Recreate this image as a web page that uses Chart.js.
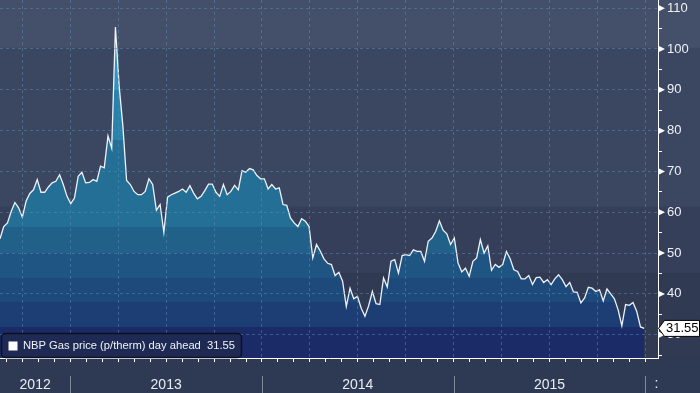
<!DOCTYPE html>
<html>
<head>
<meta charset="utf-8">
<script src="https://cdn.jsdelivr.net/npm/chart.js@4.4.1/dist/chart.umd.min.js"></script>
<style>
  html, body { margin: 0; padding: 0; background: #2e3a53; }
  #wrap { width: 700px; height: 393px; }
</style>
</head>
<body>
<div id="wrap"><canvas id="c" width="700" height="393"></canvas></div>
<script>
// ---- Data ----
const seriesLabel = 'NBP Gas price (p/therm) day ahead';
// weekly values, Aug 2012 -> Dec 2015 (p/therm)
const values = [
  53.5, 56.5, 57.4, 60.2, 62.4, 61.1, 58.8, 62.7, 64.6, 65.5,
  68.0, 64.9, 64.9, 66.2, 67.2, 67.6, 69.2, 66.8, 63.9, 62.1,
  63.5, 68.8, 69.8, 67.2, 67.3, 68.0, 67.6, 71.3, 70.9, 78.7,
  75.7, 105.4, 90.9, 81.1, 67.8, 66.8, 65.1, 64.3, 64.3, 65.1,
  68.2, 66.8, 60.5, 61.9, 55.1, 63.7, 64.3, 64.7, 65.1, 65.7,
  64.9, 66.5, 64.7, 63.3, 63.9, 65.3, 66.9, 66.9, 64.9, 63.9,
  66.8, 64.3, 65.1, 66.6, 65.5, 70.2, 69.8, 70.7, 70.4, 69.0,
  68.2, 68.2, 65.7, 66.8, 65.7, 66.0, 61.9, 61.7, 58.6, 57.4,
  56.5, 58.4, 57.8, 56.5, 48.8, 52.1, 50.5, 48.6, 47.5, 47.2,
  44.5, 45.3, 43.1, 36.9, 41.4, 38.8, 39.4, 36.5, 34.5, 37.1,
  40.6, 37.6, 37.4, 43.9, 41.7, 48.0, 48.4, 45.1, 49.4, 49.6,
  49.4, 50.8, 50.4, 50.4, 48.0, 52.9, 53.7, 55.3, 57.9, 55.6,
  54.7, 52.1, 53.7, 47.6, 45.4, 46.3, 44.3, 48.0, 48.8, 53.3,
  50.0, 51.8, 45.8, 47.2, 46.5, 47.2, 50.4, 48.6, 45.9, 45.5,
  43.7, 43.7, 44.5, 42.3, 44.0, 44.1, 42.8, 43.5, 42.3, 43.7,
  44.7, 43.5, 41.8, 42.8, 40.5, 40.4, 37.8, 39.0, 41.6, 41.4,
  40.6, 41.0, 38.3, 41.2, 40.0, 38.8, 36.1, 32.2, 37.4, 37.2,
  37.9, 35.7, 31.9, 31.55
];
const lastValueText = '31.55';
// x axis is in months counted from Jan 2012 (month 12 = Jan 2013)
const firstWeekMonth = 7.6;     // date of first observation (late Aug 2012)
const weekInMonths = 0.2331;    // one weekly step
const xMin = 7.6, xMax = 48.79;
const monthTicks = [8,9,10,11,12,13,14,15,16,17,18,19,20,21,22,23,24,25,26,27,28,29,30,31,32,33,34,35,36,37,38,39,40,41,42,43,44,45,46,47,48];
const yearLabels = ['2012', '2013', '2014', '2015'];
const yearStartMonths = [0, 12, 24, 36, 48];
const yMin = 24.3, yMax = 112;
const yTickValues = [25,30,35,40,45,50,55,60,65,70,75,80,85,90,95,100,105,110];

const points = values.map((v, i) => ({ x: firstWeekMonth + i * weekInMonths, y: v }));

// ---- Styles ----
const FONT = '"Liberation Sans", Arial, sans-serif';
const gridColor = 'rgba(92,140,180,0.5)';
const clear = 'rgba(0,0,0,0)';
const bgBands = [ // [fraction of plot height where band ends, colour]
  [0.134, '#444f69'], [0.578, '#3b4661'], [0.763, '#353f59'], [1.0, '#303a53']
];
const fillBands = [
  [0.251, '#2c95c0'], [0.391, '#2783ac'], [0.634, '#236f96'], [0.707, '#216189'],
  [0.777, '#1f5582'], [0.844, '#1e4a7b'], [0.913, '#1d3e74'], [1.0, '#1b2b67']
];

function fillGradient(ctx) {
  const chart = ctx.chart;
  const a = chart.chartArea;
  if (!a) return '#236f96';
  const g = chart.ctx.createLinearGradient(0, a.top, 0, a.bottom);
  let prev = 0;
  fillBands.forEach(([f, c]) => { g.addColorStop(prev, c); g.addColorStop(f, c); prev = f; });
  return g;
}

const bgPlugin = {
  id: 'bg',
  beforeDraw(chart) {
    const { ctx, chartArea: a, width, height } = chart;
    ctx.save();
    let prev = a.top;
    bgBands.forEach(([f, c]) => {
      const yEnd = a.top + f * (a.bottom - a.top);
      ctx.fillStyle = c;
      ctx.fillRect(0, prev, width, yEnd - prev);
      prev = yEnd;
    });
    ctx.fillStyle = '#2e3a53';
    ctx.fillRect(0, a.bottom, width, height - a.bottom);
    ctx.restore();
  }
};

const overlayPlugin = {
  id: 'overlay',
  afterDraw(chart) {
    const { ctx, chartArea: a } = chart;
    const xs = chart.scales.x, ys = chart.scales.y;
    ctx.save();
    // major tick markers on the value axis
    ctx.fillStyle = '#ffffff';
    yTickValues.filter(v => v % 10 === 0).forEach(v => {
      const y = ys.getPixelForValue(v);
      ctx.beginPath();
      ctx.moveTo(a.right, y - 3.5);
      ctx.lineTo(a.right + 7, y);
      ctx.lineTo(a.right, y + 3.5);
      ctx.closePath();
      ctx.fill();
    });
    // year separators and labels
    ctx.strokeStyle = '#7f899c';
    ctx.lineWidth = 1;
    const px = yearStartMonths.map(m => xs.getPixelForValue(m));
    px.slice(1).forEach(p => {
      const x = Math.round(p) + 0.5;
      ctx.beginPath(); ctx.moveTo(x, a.bottom + 18); ctx.lineTo(x, chart.height); ctx.stroke();
    });
    ctx.fillStyle = '#e8edf4';
    ctx.font = '14px ' + FONT;
    ctx.textAlign = 'center';
    ctx.textBaseline = 'middle';
    yearLabels.forEach((lab, i) => {
      const l = Math.max(px[i], a.left), r = px[i + 1];
      ctx.fillText(lab, (l + r) / 2, a.bottom + 27);
    });
    ctx.textAlign = 'left';
    ctx.fillText(':', px[4] + 9, a.bottom + 26);

    // legend box
    const lx = 1.5, ly = a.bottom - 24.5, lw = 240, lh = 24;
    ctx.beginPath();
    ctx.roundRect(lx, ly, lw, lh, 4);
    ctx.fillStyle = '#1e2a53';
    ctx.fill();
    ctx.strokeStyle = '#0b1122';
    ctx.lineWidth = 1.5;
    ctx.stroke();
    ctx.fillStyle = '#ffffff';
    ctx.fillRect(8.5, ly + 8, 9, 9);
    ctx.fillStyle = '#eef2f8';
    ctx.font = '11.2px ' + FONT;
    ctx.textBaseline = 'middle';
    ctx.fillText(seriesLabel + '  ' + lastValueText, 23, ly + 12.5);

    // last value marker
    const yv = ys.getPixelForValue(values[values.length - 1]);
    ctx.beginPath();
    ctx.moveTo(a.right + 0.5, yv);
    ctx.lineTo(a.right + 6.5, yv - 8);
    ctx.lineTo(699.5, yv - 8);
    ctx.lineTo(699.5, yv + 8);
    ctx.lineTo(a.right + 6.5, yv + 8);
    ctx.closePath();
    ctx.fillStyle = '#ffffff';
    ctx.fill();
    ctx.strokeStyle = '#000000';
    ctx.lineWidth = 1;
    ctx.stroke();
    ctx.fillStyle = '#000000';
    ctx.font = '13px ' + FONT;
    ctx.fillText(lastValueText, a.right + 8, yv + 0.5);
    ctx.restore();
  }
};

new Chart(document.getElementById('c'), {
  type: 'line',
  data: {
    datasets: [{
      label: seriesLabel,
      data: points,
      borderColor: '#eef2f8',
      borderWidth: 1.3,
      pointRadius: 0,
      tension: 0,
      fill: 'start',
      backgroundColor: fillGradient
    }]
  },
  options: {
    responsive: false,
    animation: false,
    devicePixelRatio: 1,
    layout: { padding: 0 },
    plugins: { legend: { display: false }, tooltip: { enabled: false } },
    scales: {
      x: {
        type: 'linear', position: 'bottom', min: xMin, max: xMax,
        afterBuildTicks: s => { s.ticks = monthTicks.map(v => ({ value: v })); },
        afterFit: s => { s.height = 35; s.paddingLeft = 0; s.paddingRight = 0; },
        ticks: { display: false, autoSkip: false },
        grid: {
          z: 1,
          color: c => (c.tick && c.tick.value % 3 === 0) ? gridColor : clear,
          lineWidth: 1, drawTicks: true, tickLength: 4, tickColor: '#ffffff', tickWidth: 1
        },
        border: { display: true, color: '#ffffff', width: 1, dash: [3, 3], z: 2 }
      },
      y: {
        type: 'linear', position: 'right', min: yMin, max: yMax,
        afterBuildTicks: s => { s.ticks = yTickValues.map(v => ({ value: v })); },
        afterFit: s => { s.width = 42; s.paddingTop = 0; s.paddingBottom = 0; },
        ticks: {
          autoSkip: false, padding: 5, color: '#eef2f8',
          font: { family: FONT, size: 13 },
          callback: v => (v % 10 === 0 ? String(v) : '')
        },
        grid: {
          z: 1,
          color: c => (c.tick && c.tick.value % 10 === 0) ? gridColor : clear,
          lineWidth: 1, drawTicks: true, tickLength: 4, tickColor: '#ffffff', tickWidth: 1
        },
        border: { display: true, color: '#ffffff', width: 1, dash: [3, 3], z: 2 }
      }
    }
  },
  plugins: [bgPlugin, overlayPlugin]
});
</script>
</body>
</html>
